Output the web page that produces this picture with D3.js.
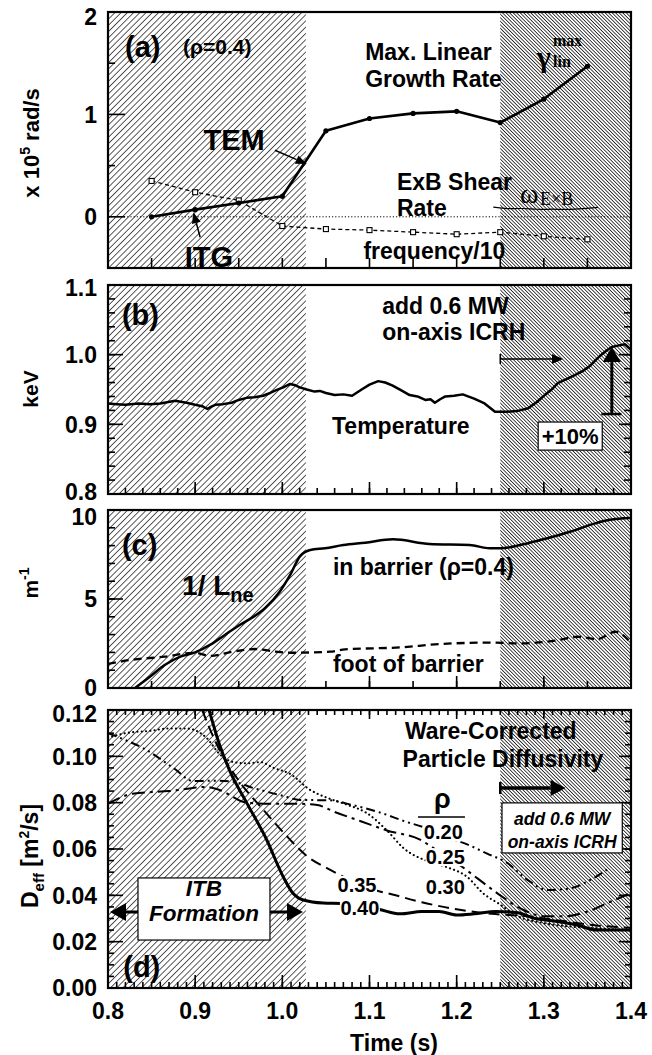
<!DOCTYPE html>
<html><head><meta charset="utf-8">
<script src="https://cdn.jsdelivr.net/npm/d3@7"></script>
<style>
body{margin:0;background:#fff;}
svg text{font-family:"Liberation Sans",Arial,Helvetica,sans-serif;font-weight:bold;fill:#000;}
</style></head><body>
<svg id="c" width="652" height="1055"></svg>
<script>
// ---------------- data ----------------
const timeTicks = [0.8, 0.9, 1.0, 1.1, 1.2, 1.3, 1.4];
const itbWindow = [0.8, 1.027];
const icrhWindow = [1.25, 1.4];

// (a) growth rate / frequency (x 1e5 rad/s)
const gammaTime = [0.85, 0.9, 0.95, 1.0, 1.05, 1.1, 1.15, 1.2, 1.25, 1.3, 1.35];
const gammaMax  = [0.0, 0.07, 0.135, 0.2, 0.84, 0.96, 1.01, 1.03, 0.92, 1.15, 1.47];
const freqDiv10 = [0.35, 0.24, 0.16, -0.09, -0.12, -0.13, -0.15, -0.17, -0.15, -0.19, -0.22];
const exbTime  = [1.242, 1.258, 1.275, 1.292, 1.31, 1.327, 1.345, 1.362];
const exbShear = [0.095, 0.075, 0.085, 0.07, 0.076, 0.07, 0.08, 0.092];
const aTicksY = [0, 1, 2];

// (b) temperature (keV)
const tempTime = [0.800,0.81,0.82,0.835,0.848,0.86,0.877,0.89,0.900,0.908,0.914,0.918,0.923,0.932,0.942,0.95,0.959,0.968,0.978,0.986,0.993,1.001,1.009,1.015,1.020,1.028,1.037,1.043,1.05,1.060,1.070,1.080,1.091,1.100,1.110,1.118,1.126,1.136,1.146,1.155,1.164,1.170,1.175,1.181,1.187,1.197,1.207,1.220,1.232,1.244,1.256,1.269,1.282,1.292,1.301,1.309,1.316,1.326,1.336,1.344,1.352,1.360,1.366,1.372,1.378,1.385,1.393,1.400];
const tempKeV  = [0.930,0.929,0.928,0.930,0.929,0.930,0.934,0.931,0.928,0.926,0.922,0.925,0.928,0.929,0.931,0.935,0.938,0.939,0.941,0.945,0.949,0.953,0.958,0.956,0.953,0.950,0.947,0.948,0.945,0.942,0.943,0.941,0.950,0.957,0.962,0.960,0.956,0.949,0.942,0.940,0.935,0.936,0.931,0.936,0.940,0.941,0.943,0.937,0.930,0.918,0.918,0.919,0.923,0.932,0.942,0.950,0.959,0.965,0.971,0.976,0.983,0.993,1.000,1.006,1.011,1.013,1.015,1.007];
const bTicksY = [0.8, 0.9, 1.0, 1.1];

// (c) inverse density gradient length (1/m)
const barrierTime = [0.831,0.848,0.865,0.883,0.900,0.917,0.934,0.951,0.966,0.980,0.997,1.009,1.020,1.032,1.049,1.070,1.095,1.127,1.169,1.215,1.238,1.250,1.273,1.296,1.330,1.359,1.376,1.399];
const barrierInvL = [0,0.63,1.29,1.76,2.0,2.42,2.98,3.54,3.97,4.48,5.41,6.35,7.38,7.75,7.85,8.03,8.16,8.35,8.09,8.03,7.85,7.85,8.03,8.31,8.78,9.25,9.45,9.55];
const footTime = [0.800,0.825,0.865,0.900,0.917,0.943,0.969,0.992,1.009,1.055,1.072,1.135,1.181,1.238,1.273,1.313,1.339,1.361,1.382,1.399];
const footInvL = [1.35,1.57,1.76,1.98,1.80,2.04,2.19,2.04,1.98,2.04,2.17,2.28,2.47,2.55,2.51,2.66,2.88,2.75,3.16,2.6];
const cTicksY = [0, 5, 10];

// (d) Ware-corrected particle diffusivity (m^2/s) at several rho
const d040Time = [0.916,0.928,0.940,0.959,0.982,1.001,1.012,1.024,1.047,1.068,1.09,1.11,1.135,1.16,1.18,1.20,1.22,1.245,1.27,1.29,1.31,1.34,1.36,1.40];
const d040     = [0.120,0.105,0.0935,0.080,0.064,0.048,0.041,0.038,0.0367,0.0365,0.035,0.034,0.032,0.033,0.033,0.0315,0.032,0.033,0.0325,0.030,0.029,0.027,0.025,0.025];
const d035Time = [0.908,0.925,0.951,0.978,1.005,1.028,1.055,1.075,1.10,1.13,1.16,1.20,1.24,1.28,1.32,1.36,1.40];
const d035     = [0.120,0.105,0.089,0.077,0.0656,0.057,0.051,0.047,0.043,0.040,0.037,0.034,0.032,0.031,0.029,0.027,0.026];
const d030Time = [0.80,0.82,0.848,0.87,0.89,0.913,0.928,0.944,0.96,0.975,0.99,1.009,1.032,1.055,1.075,1.097,1.12,1.139,1.169,1.19,1.212,1.23,1.25,1.27,1.30,1.35,1.40];
const d030     = [0.108,0.110,0.111,0.112,0.112,0.108,0.101,0.0975,0.097,0.0975,0.095,0.0924,0.0855,0.0816,0.079,0.0755,0.068,0.0604,0.0544,0.052,0.048,0.041,0.036,0.031,0.028,0.026,0.025];
const d025Time = [0.80,0.83,0.87,0.913,0.928,0.959,0.99,1.02,1.04,1.06,1.09,1.12,1.158,1.175,1.20,1.225,1.25,1.275,1.30,1.325,1.35,1.375,1.40];
const d025     = [0.0795,0.084,0.085,0.0868,0.0855,0.080,0.0795,0.0795,0.079,0.076,0.072,0.068,0.064,0.060,0.054,0.047,0.040,0.034,0.031,0.031,0.033,0.037,0.041];
const d020Time = [0.80,0.82,0.84,0.875,0.898,0.92,0.944,0.967,1.0,1.02,1.055,1.08,1.11,1.14,1.165,1.19,1.212,1.235,1.258,1.28,1.304,1.33,1.355,1.376];
const d020     = [0.110,0.107,0.1036,0.095,0.0893,0.0895,0.089,0.0863,0.083,0.0812,0.081,0.079,0.076,0.072,0.069,0.065,0.062,0.058,0.054,0.047,0.0423,0.043,0.047,0.052];
const dTicksY = [0.00, 0.02, 0.04, 0.06, 0.08, 0.10, 0.12];
const rhoLabels = ["0.20", "0.25", "0.30", "0.35", "0.40"];

// ---------------- drawing ----------------
const svg = d3.select('#c');
const defs = svg.append('defs');
const SERIF = '"Liberation Serif","Times New Roman",serif';
function hatch(id, spacing, angle, sw, color) {
  const p = defs.append('pattern').attr('id', id).attr('patternUnits', 'userSpaceOnUse')
    .attr('width', spacing).attr('height', 10).attr('patternTransform', `rotate(${angle})`);
  p.append('line').attr('x1', spacing / 2).attr('x2', spacing / 2).attr('y1', -1).attr('y2', 11)
    .attr('stroke', color).attr('stroke-width', sw);
}
hatch('hatchL', 4.4, 45, 0.9, '#444');
hatch('hatchR', 2.5, -45, 0.85, '#222');

const x = d3.scaleLinear().domain([0.8, 1.4]).range([108, 631]);
const X0 = x(0.8), X1 = x(1.4);
const ANN = 23;

function range(a, b, s) { const n = Math.round((b - a) / s); return d3.range(n + 1).map(i => +(a + i * s).toFixed(6)); }

function panel(id, top, bottom, domain) {
  const y = d3.scaleLinear().domain(domain).range([bottom, top]);
  const g = svg.append('g');
  defs.append('clipPath').attr('id', 'clip' + id).append('rect')
    .attr('x', X0).attr('y', top).attr('width', X1 - X0).attr('height', bottom - top);
  g.append('rect').attr('x', x(itbWindow[0])).attr('y', top).attr('width', x(itbWindow[1]) - x(itbWindow[0]))
    .attr('height', bottom - top).attr('fill', 'url(#hatchL)');
  g.append('rect').attr('x', x(icrhWindow[0])).attr('y', top).attr('width', x(icrhWindow[1]) - x(icrhWindow[0]))
    .attr('height', bottom - top).attr('fill', 'url(#hatchR)');
  const plot = g.append('g').attr('clip-path', `url(#clip${id})`);
  const over = svg.append('g');
  return { y, g, plot, over, top, bottom, domain };
}
function frame(P) {
  P.over.append('rect').attr('x', X0).attr('y', P.top).attr('width', X1 - X0).attr('height', P.bottom - P.top)
    .attr('fill', 'none').attr('stroke', '#000').attr('stroke-width', 2.2);
}
function tickSet(P, side, vals, len) {
  const g = P.over;
  vals.forEach(v => {
    if (side === 'left' || side === 'right') {
      const yy = P.y(v), x0 = side === 'left' ? X0 : X1, d = side === 'left' ? len : -len;
      g.append('line').attr('x1', x0).attr('x2', x0 + d).attr('y1', yy).attr('y2', yy).attr('stroke', '#000').attr('stroke-width', 1.6);
    } else {
      const xx = x(v), y0 = side === 'bottom' ? P.bottom : P.top, d = side === 'bottom' ? -len : len;
      g.append('line').attr('x1', xx).attr('x2', xx).attr('y1', y0).attr('y2', y0 + d).attr('stroke', '#000').attr('stroke-width', 1.6);
    }
  });
}
function yLabels(P, vals, fmt, topShift, botShift) {
  vals.forEach(v => {
    const shift = (v === P.domain[1]) ? topShift : (v === P.domain[0] ? botShift : 0);
    P.over.append('text').attr('x', X0 - 11).attr('y', P.y(v) + shift).attr('dy', '0.36em').attr('text-anchor', 'end')
      .attr('font-size', 23).text(fmt(v));
  });
}
function txt(g, px, py, s, size, opt = {}) {
  const t = g.append('text').attr('x', px).attr('y', py).attr('font-size', size).text(s);
  if (opt.anchor) t.attr('text-anchor', opt.anchor);
  if (opt.italic) t.attr('font-style', 'italic');
  if (opt.family) t.style('font-family', opt.family);
  if (opt.weight) t.style('font-weight', opt.weight);
  return t;
}
function arrow(g, x1, y1, x2, y2, w, head, hw) {
  const a = Math.atan2(y2 - y1, x2 - x1);
  const bx = x2 - head * Math.cos(a), by = y2 - head * Math.sin(a);
  g.append('line').attr('x1', x1).attr('y1', y1).attr('x2', bx).attr('y2', by).attr('stroke', '#000').attr('stroke-width', w);
  g.append('path').attr('d', `M${x2},${y2}L${bx - hw * Math.sin(a)},${by + hw * Math.cos(a)}L${bx + hw * Math.sin(a)},${by - hw * Math.cos(a)}Z`).attr('fill', '#000');
}
function series(P, ts, vs, style, curve) {
  const line = d3.line().x(d => x(d[0])).y(d => P.y(d[1])).curve(curve || d3.curveLinear);
  const p = P.plot.append('path').datum(ts.map((t, i) => [t, vs[i]])).attr('d', line)
    .attr('fill', 'none').attr('stroke', '#000').attr('stroke-width', style.w || 2)
    .attr('stroke-linejoin', 'round');
  if (style.dash) p.attr('stroke-dasharray', style.dash);
  if (style.cap) p.attr('stroke-linecap', style.cap);
  return p;
}
function yTitle(cx, cy, size, parts) {
  const t = svg.append('text').attr('transform', `translate(${cx},${cy}) rotate(-90)`).attr('text-anchor', 'middle').attr('font-size', size);
  parts.forEach(pt => {
    const s = t.append('tspan').text(pt.s);
    if (pt.size) s.attr('font-size', pt.size);
    if (pt.dy) s.attr('dy', pt.dy);
  });
}

// ---------- panel (a) ----------
const A = panel('a', 12, 268, [-0.5, 2]);
A.plot.append('line').attr('x1', X0).attr('x2', X1).attr('y1', A.y(0)).attr('y2', A.y(0))
  .attr('stroke', '#000').attr('stroke-width', 1).attr('stroke-dasharray', '1.2,2');
series(A, exbTime, exbShear, { w: 1.2 }, d3.curveBasis);
series(A, gammaTime, freqDiv10, { w: 1.3, dash: '4,3' });
gammaTime.forEach((t, i) => {
  A.plot.append('rect').attr('x', x(t) - 2.5).attr('y', A.y(freqDiv10[i]) - 2.5).attr('width', 5).attr('height', 5)
    .attr('fill', '#fff').attr('stroke', '#000').attr('stroke-width', 1.1);
});
series(A, gammaTime, gammaMax, { w: 2.6 });
gammaTime.forEach((t, i) => {
  A.plot.append('circle').attr('cx', x(t)).attr('cy', A.y(gammaMax[i])).attr('r', 2.6).attr('fill', '#000');
});
frame(A);
tickSet(A, 'left', [0, 1], 17);
tickSet(A, 'left', [-0.5, 0.5, 1.5], 7);
tickSet(A, 'bottom', range(0.85, 1.35, 0.05), 10);
yLabels(A, aTicksY, d3.format('d'), 5, 0);
txt(A.over, x(0.8195), A.y(1.56), '(a)', 29);
txt(A.over, x(0.886), A.y(1.59), '(ρ=0.4)', 21);
txt(A.over, x(1.095), A.y(1.53), 'Max. Linear', ANN);
txt(A.over, x(1.095), A.y(1.265), 'Growth Rate', ANN);
txt(A.over, x(1.1315), A.y(0.26), 'ExB Shear', ANN);
txt(A.over, x(1.1315), A.y(0.01), 'Rate', ANN);
txt(A.over, x(1.093), A.y(-0.41), 'frequency/10', ANN);
txt(A.over, x(0.9095), A.y(0.65), 'TEM', 29);
txt(A.over, x(0.888), A.y(-0.49), 'ITG', 29);
arrow(A.over, x(0.9915), A.y(0.65), x(1.028), A.y(0.515), 1.5, 11, 4.5);
arrow(A.over, x(0.9057), A.y(-0.2), x(0.898), A.y(0.045), 1.5, 11, 4.5);
// gamma_lin^max
txt(A.over, x(1.292), A.y(1.463), 'γ', 30, { family: SERIF });
txt(A.over, x(1.3105), A.y(1.67), 'max', 16, { family: SERIF });
txt(A.over, x(1.3105), A.y(1.463), 'lin', 16, { family: SERIF });
// omega_ExB
txt(A.over, x(1.2726), A.y(0.135), 'ω', 28, { family: SERIF, weight: 'normal' });
txt(A.over, x(1.2956), A.y(0.115), 'E×B', 18, { family: SERIF, weight: 'normal' });
yTitle(39, 143, 22, [{ s: 'x 10' }, { s: '5', size: 14, dy: -9 }, { s: ' rad/s', dy: 9 }]);

// ---------- panel (b) ----------
const B = panel('b', 285, 494, [0.8, 1.1]);
series(B, tempTime, tempKeV, { w: 2.5 });
frame(B);
tickSet(B, 'left', bTicksY, 15);
tickSet(B, 'left', range(0.8, 1.1, 0.02), 7);
tickSet(B, 'right', bTicksY, 12);
tickSet(B, 'right', range(0.8, 1.1, 0.02), 7);
tickSet(B, 'bottom', range(0.8, 1.4, 0.02), 6);
tickSet(B, 'bottom', timeTicks, 12);
yLabels(B, bTicksY, d3.format('.1f'), 3, -2);
txt(B.over, x(0.816), B.y(1.0426), '(b)', 29);
txt(B.over, x(1.1145), B.y(1.0584), 'add 0.6 MW', ANN);
txt(B.over, x(1.1145), B.y(1.021), 'on-axis ICRH', ANN);
txt(B.over, x(1.057), B.y(0.886), 'Temperature', ANN);
// horizontal ICRH arrow
B.over.append('line').attr('x1', x(1.25)).attr('x2', x(1.25)).attr('y1', B.y(0.9938) - 5).attr('y2', B.y(0.9938) + 5).attr('stroke', '#000').attr('stroke-width', 1.5);
arrow(B.over, x(1.25), B.y(0.9938), x(1.322), B.y(0.9938), 1.5, 11, 5);
// +10% vertical arrow
B.over.append('line').attr('x1', x(1.366)).attr('x2', x(1.389)).attr('y1', B.y(0.9148)).attr('y2', B.y(0.9148)).attr('stroke', '#000').attr('stroke-width', 2.5);
arrow(B.over, x(1.378), B.y(0.9148), x(1.378), B.y(1.011), 3, 15, 9);
B.over.append('rect').attr('x', x(1.2935)).attr('y', B.y(0.9033)).attr('width', x(1.367) - x(1.2935)).attr('height', B.y(0.863) - B.y(0.9033))
  .attr('fill', '#fff').attr('stroke', '#000').attr('stroke-width', 1.2);
txt(B.over, x(1.3302), B.y(0.8718), '+10%', 22, { anchor: 'middle' });
yTitle(38, 389, 21, [{ s: 'keV' }]);

// ---------- panel (c) ----------
const C = panel('c', 510, 688, [0, 10]);
series(C, footTime, footInvL, { w: 2.3, dash: '8,5' }, d3.curveMonotoneX);
series(C, barrierTime, barrierInvL, { w: 2.5 }, d3.curveMonotoneX);
frame(C);
tickSet(C, 'left', cTicksY, 15);
tickSet(C, 'left', range(0, 10, 1), 7);
tickSet(C, 'bottom', range(0.8, 1.4, 0.05), 7);
tickSet(C, 'bottom', timeTicks, 12);
yLabels(C, cTicksY, d3.format('d'), 7, 0);
txt(C.over, x(0.816), C.y(7.47), '(c)', 29);
const lne = txt(C.over, x(0.885), C.y(5.22), '1/ L', 28);
lne.append('tspan').attr('font-size', 20).attr('dy', 7).text('ne');
txt(C.over, x(1.058), C.y(6.35), 'in barrier (ρ=0.4)', ANN);
txt(C.over, x(1.058), C.y(0.9), 'foot of barrier', ANN);
yTitle(38, 583, 21, [{ s: 'm' }, { s: '-1', size: 14, dy: -9 }]);

// ---------- panel (d) ----------
const D = panel('d', 710, 988, [0, 0.12]);
series(D, d020Time, d020, { w: 2, dash: '9,4,2,4,2,4' }, d3.curveMonotoneX);
series(D, d025Time, d025, { w: 2, dash: '13,5,3,5' }, d3.curveMonotoneX);
series(D, d030Time, d030, { w: 2.1, dash: '0.1,4.2', cap: 'round' }, d3.curveMonotoneX);
series(D, d035Time, d035, { w: 2, dash: '11,6' }, d3.curveMonotoneX);
series(D, d040Time, d040, { w: 3 }, d3.curveMonotoneX);
frame(D);
tickSet(D, 'left', dTicksY, 15);
tickSet(D, 'left', range(0, 0.12, 0.005), 6);
tickSet(D, 'right', dTicksY, 12);
tickSet(D, 'right', range(0, 0.12, 0.005), 6);
tickSet(D, 'top', range(0.8, 1.4, 0.01), 5);
tickSet(D, 'top', timeTicks, 9);
tickSet(D, 'bottom', range(0.8, 1.4, 0.01), 6);
tickSet(D, 'bottom', timeTicks, 13);
yLabels(D, dTicksY, d3.format('.2f'), 4, 0);
// rho labels
const rhoPos = [[1.1847, 0.0673], [1.187, 0.0565], [1.187, 0.0436], [1.0857, 0.0445], [1.089, 0.0345]];
rhoLabels.forEach((s, i) => {
  const [t, v] = rhoPos[i];
  D.over.append('rect').attr('x', x(t) - 20).attr('y', D.y(v) - 9).attr('width', 40).attr('height', 18).attr('fill', '#fff');
  txt(D.over, x(t), D.y(v) + 7, s, 20, { anchor: 'middle' });
});
txt(D.over, x(1.1836), D.y(0.0775), 'ρ', 27, { anchor: 'middle' });
D.over.append('line').attr('x1', x(1.1556)).attr('x2', x(1.2095)).attr('y1', D.y(0.0738)).attr('y2', D.y(0.0738)).attr('stroke', '#000').attr('stroke-width', 1.5);
txt(D.over, x(1.1407), D.y(0.1075), 'Ware-Corrected', ANN);
txt(D.over, x(1.138), D.y(0.0954), 'Particle Diffusivity', ANN);
D.over.append('line').attr('x1', x(1.25)).attr('x2', x(1.25)).attr('y1', D.y(0.0863) - 6).attr('y2', D.y(0.0863) + 6).attr('stroke', '#000').attr('stroke-width', 2.5);
arrow(D.over, x(1.25), D.y(0.0863), x(1.325), D.y(0.0863), 3.5, 15, 8);
// ICRH box
D.over.append('rect').attr('x', x(1.252)).attr('y', D.y(0.0799)).attr('width', x(1.39) - x(1.252)).attr('height', D.y(0.0583) - D.y(0.0799))
  .attr('fill', '#fff').attr('stroke', '#000').attr('stroke-width', 1.2);
txt(D.over, x(1.321), D.y(0.0705), 'add 0.6 MW', 17.5, { anchor: 'middle', italic: true });
txt(D.over, x(1.321), D.y(0.0603), 'on-axis ICRH', 17.5, { anchor: 'middle', italic: true });
// ITB formation
arrow(D.over, x(0.868), D.y(0.0328), x(0.8023), D.y(0.0328), 3, 16, 9);
arrow(D.over, x(0.96), D.y(0.0328), x(1.0237), D.y(0.0328), 3, 16, 9);
D.over.append('rect').attr('x', x(0.8344)).attr('y', D.y(0.0475)).attr('width', x(0.9858) - x(0.8344)).attr('height', D.y(0.0207) - D.y(0.0475))
  .attr('fill', '#fff').attr('stroke', '#000').attr('stroke-width', 1.2);
txt(D.over, x(0.9101), D.y(0.0399), 'ITB', 22.5, { anchor: 'middle', italic: true });
txt(D.over, x(0.9101), D.y(0.0290), 'Formation', 22.5, { anchor: 'middle', italic: true });
txt(D.over, x(0.8175), D.y(0.0047), '(d)', 29);
// x tick labels
timeTicks.forEach(t => txt(svg, x(t), 1019, d3.format('.1f')(t), 23, { anchor: 'middle' }));
txt(svg, 394, 1051, 'Time (s)', 23, { anchor: 'middle' });
yTitle(38, 856, 23, [{ s: 'D' }, { s: 'eff', size: 15, dy: 6 }, { s: '  [m', dy: -6 }, { s: '2', size: 14, dy: -9 }, { s: '/s]', dy: 9 }]);
</script>
</body></html>
